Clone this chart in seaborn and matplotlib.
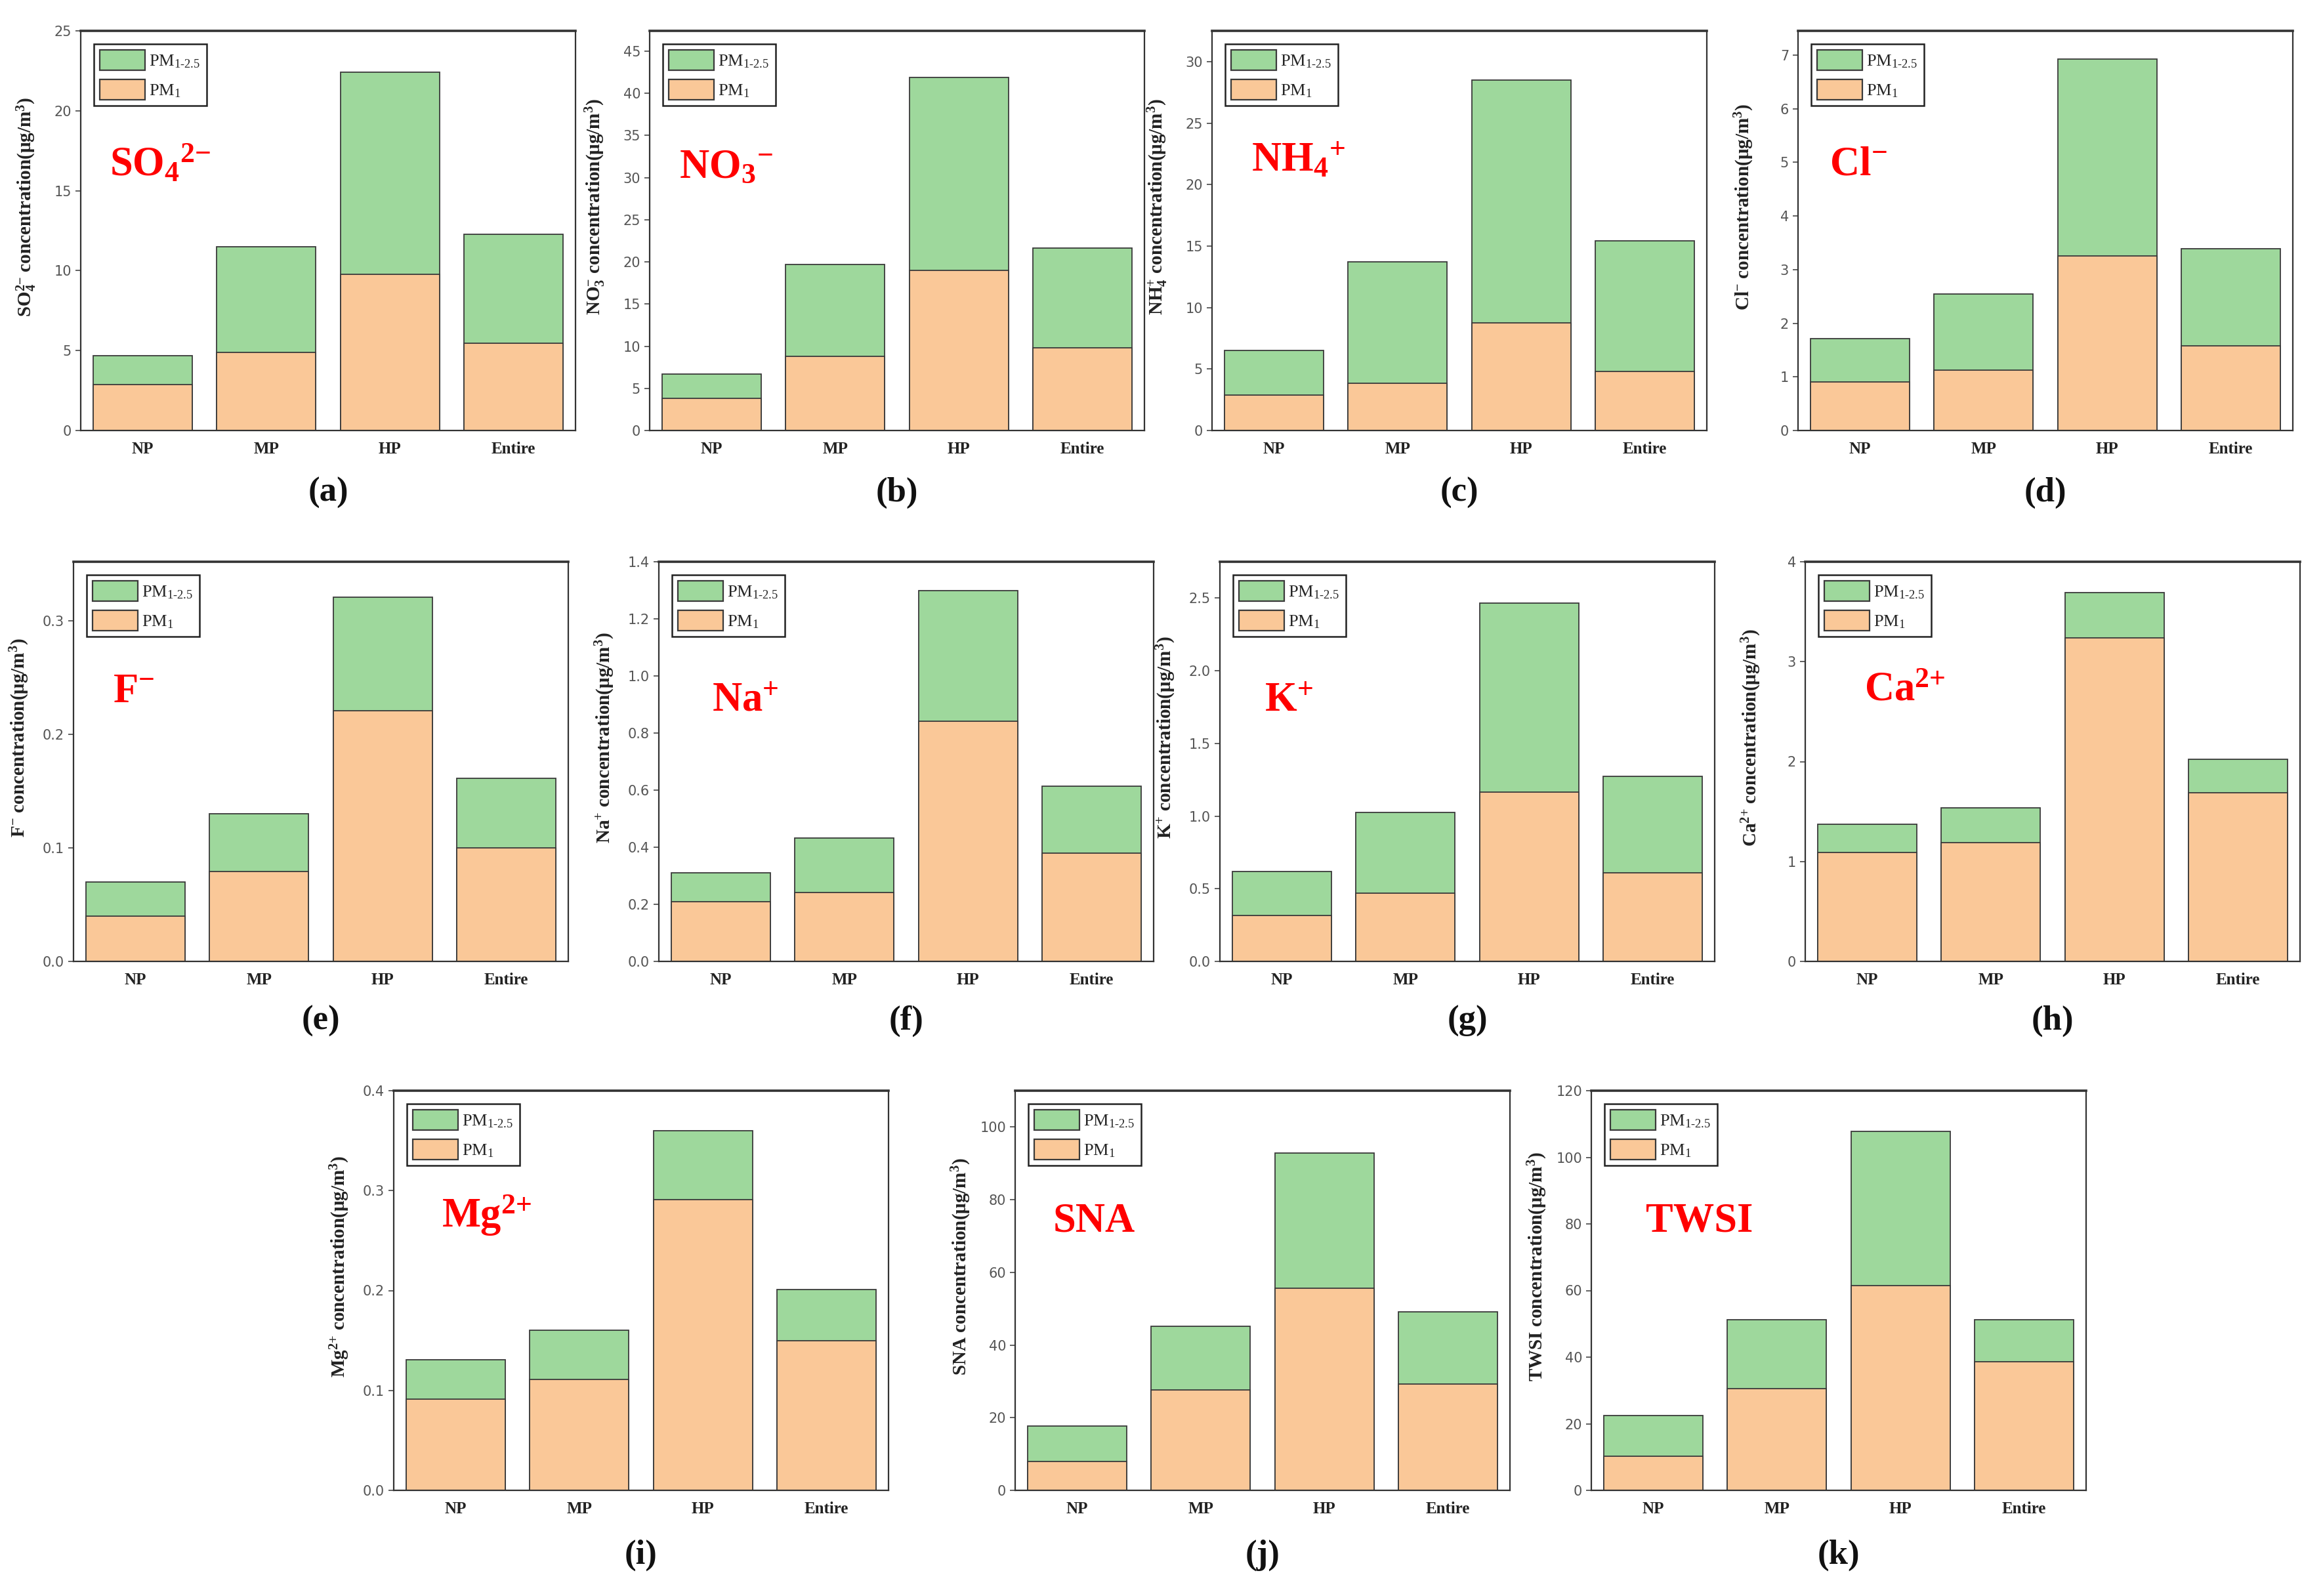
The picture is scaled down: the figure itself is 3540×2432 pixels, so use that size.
import matplotlib.pyplot as plt
from matplotlib.patches import Patch
import pandas as pd
import seaborn as sns

# ---- data (PM1 segment and PM2.5 total = PM1 + PM1-2.5) ----
periods = ['NP', 'MP', 'HP', 'Entire']

so4_pm1 = [2.88, 4.9, 9.75, 5.47]
so4_pm25 = [4.69, 11.5, 22.4, 12.27]
no3_pm1 = [3.8, 8.8, 19.0, 9.8]
no3_pm25 = [6.7, 19.7, 41.9, 21.6]
nh4_pm1 = [2.87, 3.83, 8.75, 4.79]
nh4_pm25 = [6.5, 13.7, 28.5, 15.4]
cl_pm1 = [0.9, 1.12, 3.26, 1.58]
cl_pm25 = [1.71, 2.55, 6.92, 3.39]
f_pm1 = [0.04, 0.079, 0.221, 0.10]
f_pm25 = [0.07, 0.13, 0.321, 0.161]
na_pm1 = [0.21, 0.242, 0.842, 0.38]
na_pm25 = [0.311, 0.432, 1.30, 0.614]
k_pm1 = [0.318, 0.469, 1.165, 0.608]
k_pm25 = [0.62, 1.026, 2.465, 1.274]
ca_pm1 = [1.09, 1.19, 3.24, 1.686]
ca_pm25 = [1.374, 1.54, 3.69, 2.025]
mg_pm1 = [0.091, 0.111, 0.291, 0.150]
mg_pm25 = [0.131, 0.160, 0.360, 0.201]
sna_pm1 = [8.0, 27.7, 55.6, 29.3]
sna_pm25 = [17.7, 45.1, 92.9, 49.1]
twsi_pm1 = [10.2, 30.6, 61.5, 38.6]
twsi_pm25 = [22.5, 51.3, 107.8, 51.3]

# axis-label form (stacked sub/superscript) and the big red in-plot form
ion_labels = [r'SO$_4^{2{-}}$', r'NO$_3^{{-}}$', r'NH$_4^{{+}}$', r'Cl$^{{-}}$', r'F$^{{-}}$',
              r'Na$^{{+}}$', r'K$^{{+}}$', r'Ca$^{2{+}}$', r'Mg$^{2{+}}$', 'SNA', 'TWSI']
ion_titles = [r'SO$_4{}^{2{-}}$', r'NO$_3{}^{{-}}$', r'NH$_4{}^{{+}}$', r'Cl$^{{-}}$', r'F$^{{-}}$',
              r'Na$^{{+}}$', r'K$^{{+}}$', r'Ca$^{2{+}}$', r'Mg$^{2{+}}$', 'SNA', 'TWSI']
panel_letters = ['(a)', '(b)', '(c)', '(d)', '(e)', '(f)', '(g)', '(h)', '(i)', '(j)', '(k)']
pm1_sets = [so4_pm1, no3_pm1, nh4_pm1, cl_pm1, f_pm1, na_pm1, k_pm1, ca_pm1, mg_pm1, sna_pm1, twsi_pm1]
pm25_sets = [so4_pm25, no3_pm25, nh4_pm25, cl_pm25, f_pm25, na_pm25, k_pm25, ca_pm25, mg_pm25,
             sna_pm25, twsi_pm25]
y_tops = [25, 47.4, 32.5, 7.45, 0.352, 1.4, 2.75, 4.0, 0.4, 110, 120]
y_ticks = [
    [0, 5, 10, 15, 20, 25],
    [0, 5, 10, 15, 20, 25, 30, 35, 40, 45],
    [0, 5, 10, 15, 20, 25, 30],
    [0, 1, 2, 3, 4, 5, 6, 7],
    [0.0, 0.1, 0.2, 0.3],
    [0.0, 0.2, 0.4, 0.6, 0.8, 1.0, 1.2, 1.4],
    [0.0, 0.5, 1.0, 1.5, 2.0, 2.5],
    [0, 1, 2, 3, 4],
    [0.0, 0.1, 0.2, 0.3, 0.4],
    [0, 20, 40, 60, 80, 100],
    [0, 20, 40, 60, 80, 100, 120],
]
tick_fmt = ['%d', '%d', '%d', '%d', '%.1f', '%.1f', '%.1f', '%d', '%.1f', '%d', '%d']

# ---- layout (pixels in the 3540 x 2432 canvas) ----
W, H = 3540, 2432
AX_W, AX_H = 754, 609
ax_left = [123, 990, 1847, 2740, 112, 1004, 1859, 2751, 600, 1547, 2425]
ax_bottom = [656, 656, 656, 656, 1465, 1465, 1465, 1465, 2271, 2271, 2271]
letter_y = [751, 751, 751, 751, 1556, 1556, 1556, 1556, 2370, 2370, 2370]
ion_xy = [(0.058, 0.665), (0.06, 0.656), (0.08, 0.673), (0.064, 0.665), (0.08, 0.673),
          (0.107, 0.651), (0.09, 0.651), (0.12, 0.678), (0.097, 0.688), (0.076, 0.672),
          (0.11, 0.672)]

GREEN = '#9ED89C'
ORANGE = '#FAC898'
EDGE = '#3a3a3a'
SERIF = ['Liberation Serif', 'DejaVu Serif']

sns.set_style('ticks')
plt.rcParams['font.family'] = SERIF
plt.rcParams['mathtext.default'] = 'regular'

fig = plt.figure(figsize=(W / 100, H / 100), dpi=100)

for i in range(11):
    rect = [ax_left[i] / W, 1 - ax_bottom[i] / H, AX_W / W, AX_H / H]
    ax = fig.add_axes(rect)
    df = pd.DataFrame({'Period': periods, 'PM1': pm1_sets[i], 'PM2.5': pm25_sets[i]})

    sns.barplot(data=df, x='Period', y='PM2.5', color=GREEN, saturation=1, width=0.8,
                edgecolor=EDGE, linewidth=1.3, ax=ax)
    sns.barplot(data=df, x='Period', y='PM1', color=ORANGE, saturation=1, width=0.8,
                edgecolor=EDGE, linewidth=1.3, ax=ax)

    ax.set_xlim(-0.5, 3.5)
    ax.set_ylim(0, y_tops[i])
    ax.set_yticks(y_ticks[i])
    ax.set_yticklabels([tick_fmt[i] % v for v in y_ticks[i]],
                       family=['Liberation Sans Narrow', 'DejaVu Sans'], fontsize=15, color='#555555')
    ax.set_xticks(range(len(periods)))
    ax.set_xticklabels(periods, fontsize=18, fontweight='bold', color='#222222')
    ax.tick_params(axis='x', direction='in', length=11, width=1.3, pad=12, color='#333333')
    ax.tick_params(axis='y', direction='out', length=6, width=1.3, pad=4, color='#555555')

    for side, sp in ax.spines.items():
        sp.set_visible(True)
        sp.set_color('#333333')
        sp.set_linewidth(1.6)
    ax.spines['top'].set_linewidth(2.6)

    ax.set_xlabel('')
    ax.set_ylabel(ion_labels[i] + ' concentration(μg/m$^3$)', fontsize=21, fontweight='bold',
                  color='#222222')
    ax.yaxis.set_label_coords(-0.086, 0.56)

    ax.text(ion_xy[i][0], ion_xy[i][1], ion_titles[i], transform=ax.transAxes, color='red',
            fontsize=45, fontweight='bold', va='center', ha='left')

    handles = [Patch(facecolor=GREEN, edgecolor=EDGE, linewidth=1.6),
               Patch(facecolor=ORANGE, edgecolor=EDGE, linewidth=1.6)]
    leg = ax.legend(handles, ['PM$_{1‐2.5}$', 'PM$_1$'], loc='upper left', fontsize=19,
                    frameon=True, fancybox=False, edgecolor='#222222', framealpha=1,
                    handlelength=2.6, handleheight=1.45, handletextpad=0.25,
                    labelspacing=0.5, borderpad=0.35, borderaxespad=0.75)
    leg.get_frame().set_linewidth(1.8)

    fig.text((ax_left[i] + AX_W / 2) / W, 1 - letter_y[i] / H, panel_letters[i],
             fontsize=38, fontweight='bold', ha='center', va='center', color='#111111')

fig.savefig('out.png', dpi=100, facecolor='white')
